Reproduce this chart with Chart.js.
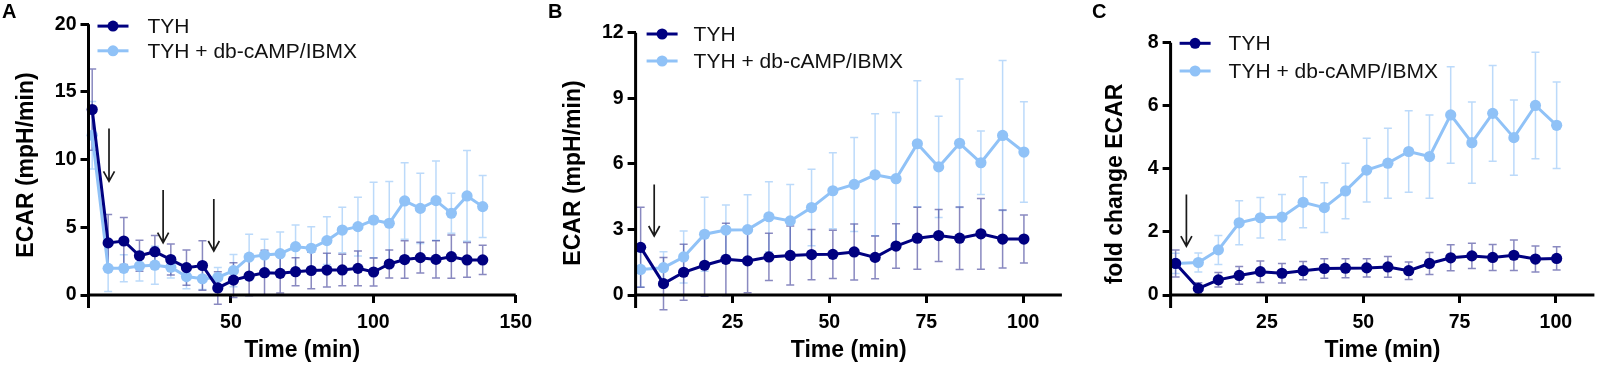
<!DOCTYPE html>
<html>
<head>
<meta charset="utf-8">
<script src="https://cdn.jsdelivr.net/npm/chart.js@4.4.1/dist/chart.umd.min.js"></script>
<style>
  html, body { margin: 0; padding: 0; background: #fff; }
  #wrap { position: relative; width: 1600px; height: 365px; overflow: hidden; background: #fff; }
  canvas { position: absolute; top: 0; }
</style>
</head>
<body>
<div id="wrap">
  <canvas id="chartA" width="540" height="365" style="left:0px"></canvas>
  <canvas id="chartB" width="530" height="365" style="left:540px"></canvas>
  <canvas id="chartC" width="530" height="365" style="left:1070px"></canvas>
</div>
<script>
// 1. Data
const seriesNames = ['TYH', 'TYH + db-cAMP/IBMX'];

// Panel A - ECAR (mpH/min), full run
const timeA = [1.3, 6.9, 12.4, 17.9, 23.3, 28.9, 34.4, 40.0, 45.4, 50.9, 56.4, 61.8, 67.3,
               72.7, 78.2, 83.7, 89.1, 94.6, 100.1, 105.6, 111.0, 116.5, 122.0, 127.4, 132.9, 138.4];
const tyhA = [13.7, 3.85, 3.99, 2.9, 3.2, 2.62, 2.02, 2.18, 0.52, 1.1, 1.4, 1.65, 1.6,
              1.72, 1.81, 1.84, 1.85, 1.97, 1.7, 2.29, 2.62, 2.76, 2.63, 2.83, 2.59, 2.59];
const tyhErrA = [3.0, 2.1, 1.73, 1.15, 1.2, 1.15, 1.3, 1.83, 1.2, 1.28, 1.45, 1.65, 1.46,
                 1.04, 1.34, 1.24, 1.16, 1.28, 1.04, 1.03, 1.38, 1.13, 1.38, 1.6, 1.28, 1.08];
const campA = [11.8, 1.97, 1.97, 2.14, 2.2, 2.05, 1.36, 1.2, 1.3, 1.8, 2.8, 2.96, 3.05,
               3.57, 3.45, 4.02, 4.8, 5.05, 5.54, 5.3, 6.95, 6.4, 6.97, 6.04, 7.32, 6.53];
const campErrA = [2.5, 1.72, 1.0, 1.1, 1.4, 0.8, 0.9, 0.8, 0.73, 1.19, 1.69, 1.15, 1.6,
                  1.6, 1.6, 1.77, 1.68, 2.17, 2.79, 3.08, 2.83, 2.6, 2.93, 1.47, 3.35, 2.29];

// Panels B and C share the same time points
const timeBC = [1.3, 7.2, 12.4, 17.8, 23.3, 28.9, 34.4, 39.9, 45.4, 50.9, 56.4, 61.8, 67.2,
                72.7, 78.2, 83.6, 89.1, 94.7, 100.2];

// Panel B - ECAR (mpH/min)
const tyhB = [2.18, 0.52, 1.04, 1.36, 1.63, 1.56, 1.74, 1.81, 1.85, 1.86, 1.97, 1.72, 2.24,
              2.6, 2.72, 2.6, 2.8, 2.56, 2.56];
const tyhErrB = [1.83, 1.2, 1.28, 1.42, 1.65, 1.46, 1.08, 1.35, 1.15, 1.1, 1.28, 0.98, 1.02,
                 1.42, 1.19, 1.43, 1.62, 1.33, 1.1];
const campB = [1.17, 1.25, 1.74, 2.78, 2.97, 2.99, 3.58, 3.39, 4.0, 4.77, 5.06, 5.5, 5.32,
               6.92, 5.86, 6.94, 6.05, 7.3, 6.54];
const campErrB = [0.8, 0.73, 1.19, 1.69, 1.15, 1.6, 1.6, 1.67, 1.75, 1.74, 2.15, 2.79, 3.03,
                  2.88, 2.32, 2.94, 1.45, 3.43, 2.3];

// Panel C - fold change ECAR
const tyhC = [1.0, 0.21, 0.48, 0.62, 0.74, 0.69, 0.77, 0.84, 0.85, 0.86, 0.89, 0.77, 1.0,
              1.18, 1.24, 1.19, 1.26, 1.14, 1.16];
const tyhErrC = [0.43, 0.18, 0.23, 0.28, 0.34, 0.31, 0.29, 0.31, 0.3, 0.29, 0.33, 0.28, 0.35,
                 0.41, 0.4, 0.41, 0.48, 0.41, 0.37];
const campC = [1.0, 1.03, 1.43, 2.29, 2.45, 2.47, 2.94, 2.77, 3.3, 3.96, 4.18, 4.55, 4.39,
               5.71, 4.83, 5.76, 4.99, 6.01, 5.38];
const campErrC = [0.32, 0.3, 0.46, 0.7, 0.64, 0.72, 0.81, 0.79, 0.88, 1.01, 1.11, 1.29, 1.32,
                  1.53, 1.29, 1.52, 1.19, 1.69, 1.37];

// Ticks
const xTicksA = [50, 100, 150];
const yTicksA = [0, 5, 10, 15, 20];
const xTicksBC = [25, 50, 75, 100];
const yTicksB = [0, 3, 6, 9, 12];
const yTicksC = [0, 2, 4, 6, 8];

// Arrows: [time, top value, tip value]
const arrowsA = [[7.2, 12.3, 8.4], [26.2, 7.76, 3.87], [44.0, 7.1, 3.25]];
const arrowsB = [[4.8, 5.06, 2.7]];
const arrowsC = [[4.1, 3.19, 1.55]];

// 2. Styles
const DARK = '#000080';
const LIGHT = '#90c2f7';
const DARK_ERR = 'rgba(40, 40, 140, 0.55)';
const LIGHT_ERR = 'rgba(143, 193, 247, 0.6)';
const FONT = "'Liberation Sans', Arial, Helvetica, sans-serif";

// 3. Plugin: error bars, arrows, axis lines, titles, legend, panel letter
const extrasPlugin = {
  id: 'panelExtras',
  beforeDatasetsDraw(chart) {
    const ctx = chart.ctx;
    const xs = chart.scales.x, ys = chart.scales.y;
    for (let i = chart.data.datasets.length - 1; i >= 0; i--) {
      const ds = chart.data.datasets[i];
      ctx.save();
      ctx.strokeStyle = ds.errorColor;
      ctx.lineWidth = 1.5;
      ds.data.forEach((p, j) => {
        const e = ds.errors[j];
        const px = xs.getPixelForValue(p.x);
        const y1 = ys.getPixelForValue(p.y + e);
        const y2 = ys.getPixelForValue(p.y - e);
        ctx.beginPath();
        ctx.moveTo(px, y1); ctx.lineTo(px, y2);
        ctx.moveTo(px - 4, y1); ctx.lineTo(px + 4, y1);
        ctx.moveTo(px - 4, y2); ctx.lineTo(px + 4, y2);
        ctx.stroke();
      });
      ctx.restore();
    }
  },
  afterDatasetsDraw(chart, args, opts) {
    const ctx = chart.ctx;
    const xs = chart.scales.x, ys = chart.scales.y;
    ctx.save();
    ctx.strokeStyle = '#1a1a1a';
    ctx.lineWidth = 1.7;
    opts.arrows.forEach(a => {
      const px = xs.getPixelForValue(a[0]);
      const top = ys.getPixelForValue(a[1]);
      const tip = ys.getPixelForValue(a[2]);
      ctx.beginPath();
      ctx.moveTo(px, top); ctx.lineTo(px, tip);
      ctx.moveTo(px - 5.5, tip - 10); ctx.lineTo(px, tip); ctx.lineTo(px + 5.5, tip - 10);
      ctx.stroke();
    });
    ctx.restore();
  },
  afterDraw(chart, args, opts) {
    const ctx = chart.ctx;
    const area = chart.chartArea;
    ctx.save();
    // axis lines (y axis runs a bit below the x axis)
    ctx.strokeStyle = '#000';
    ctx.lineWidth = 3;
    ctx.beginPath();
    ctx.moveTo(area.left, area.top);
    ctx.lineTo(area.left, area.bottom + 13);
    ctx.moveTo(area.left, area.bottom);
    ctx.lineTo(area.right, area.bottom);
    ctx.stroke();

    // axis titles
    ctx.fillStyle = '#000';
    ctx.font = 'bold 23px ' + FONT;
    ctx.textAlign = 'center';
    ctx.textBaseline = 'middle';
    ctx.fillText('Time (min)', (area.left + area.right) / 2, 350.5);
    ctx.save();
    ctx.translate(opts.yTitle[0], opts.yTitle[1]);
    ctx.rotate(-Math.PI / 2);
    ctx.fillText(opts.yTitleText, 0, 0);
    ctx.restore();

    // panel letter
    ctx.font = 'bold 20px ' + FONT;
    ctx.textAlign = 'left';
    ctx.fillText(opts.letter, opts.letterX, 12);

    // legend
    ctx.font = '21px ' + FONT;
    chart.data.datasets.forEach((ds, i) => {
      const y = area.top + opts.legendRows[i];
      const x1 = area.left + opts.legendLine;
      const x2 = x1 + 31;
      ctx.strokeStyle = ds.borderColor;
      ctx.lineWidth = 3;
      ctx.beginPath();
      ctx.moveTo(x1, y); ctx.lineTo(x2, y);
      ctx.stroke();
      ctx.fillStyle = ds.borderColor;
      ctx.beginPath();
      ctx.arc((x1 + x2) / 2, y, 5.5, 0, Math.PI * 2);
      ctx.fill();
      ctx.fillStyle = '#111';
      ctx.fillText(ds.label, area.left + opts.legendText, y + 1);
    });
    ctx.restore();
  }
};

// 4. Chart builder
function makeDataset(label, times, values, errors, color, errColor) {
  return {
    label: label,
    data: times.map((t, i) => ({ x: t, y: values[i] })),
    errors: errors,
    errorColor: errColor,
    borderColor: color,
    backgroundColor: color,
    borderWidth: 3,
    pointRadius: 5.6,
    pointBorderWidth: 0,
    pointHoverRadius: 5.6,
    tension: 0,
    clip: false
  };
}

function makeChart(id, box, datasets, xMax, yMax, xTicks, yTicks, extras) {
  const el = document.getElementById(id);
  const W = el.width, H = el.height;
  const tickFont = { family: FONT, size: 19.5, weight: 'bold' };
  const gridStyle = {
    display: true,
    drawOnChartArea: false,
    drawTicks: true,
    tickLength: 8,
    lineWidth: 3,
    color: '#000'
  };
  return new Chart(el, {
    type: 'line',
    data: { datasets: datasets },
    options: {
      responsive: false,
      animation: false,
      devicePixelRatio: 1,
      layout: { padding: { top: box.top, right: W - box.right, left: 0, bottom: 0 } },
      plugins: {
        legend: { display: false },
        tooltip: { enabled: false },
        panelExtras: extras
      },
      scales: {
        x: {
          type: 'linear',
          min: 0,
          max: xMax,
          afterBuildTicks: s => { s.ticks = xTicks.map(v => ({ value: v })); },
          afterFit: s => { s.height = H - box.bottom; },
          grid: gridStyle,
          border: { display: false },
          ticks: { font: tickFont, color: '#000', padding: 8, maxRotation: 0, autoSkip: false }
        },
        y: {
          min: 0,
          max: yMax,
          afterBuildTicks: s => { s.ticks = yTicks.map(v => ({ value: v })); },
          afterFit: s => { s.width = box.left; },
          grid: gridStyle,
          border: { display: false },
          ticks: { font: tickFont, color: '#000', padding: 4, autoSkip: false }
        }
      }
    },
    plugins: [extrasPlugin]
  });
}

document.addEventListener('DOMContentLoaded', function() {
  makeChart('chartA', { left: 88.5, right: 516, top: 24.3, bottom: 295 },
    [makeDataset(seriesNames[0], timeA, tyhA, tyhErrA, DARK, DARK_ERR),
     makeDataset(seriesNames[1], timeA, campA, campErrA, LIGHT, LIGHT_ERR)],
    150, 20, xTicksA, yTicksA,
    { arrows: arrowsA, yTitleText: 'ECAR (mpH/min)', yTitle: [27, 165],
      letter: 'A', letterX: 2, legendLine: 9, legendText: 59, legendRows: [1.8, 26.5] });

  makeChart('chartB', { left: 95.6, right: 521.9, top: 32.7, bottom: 295 },
    [makeDataset(seriesNames[0], timeBC, tyhB, tyhErrB, DARK, DARK_ERR),
     makeDataset(seriesNames[1], timeBC, campB, campErrB, LIGHT, LIGHT_ERR)],
    110, 12, xTicksBC, yTicksB,
    { arrows: arrowsB, yTitleText: 'ECAR (mpH/min)', yTitle: [34, 173],
      letter: 'B', letterX: 8, legendLine: 11, legendText: 58, legendRows: [1.3, 28.3] });

  makeChart('chartC', { left: 100.6, right: 528, top: 42.7, bottom: 295 },
    [makeDataset(seriesNames[0], timeBC, tyhC, tyhErrC, DARK, DARK_ERR),
     makeDataset(seriesNames[1], timeBC, campC, campErrC, LIGHT, LIGHT_ERR)],
    110, 8, xTicksBC, yTicksC,
    { arrows: arrowsC, yTitleText: 'fold change ECAR', yTitle: [45.5, 184],
      letter: 'C', letterX: 22, legendLine: 9, legendText: 58, legendRows: [0.6, 28.3] });
});
</script>
</body>
</html>
